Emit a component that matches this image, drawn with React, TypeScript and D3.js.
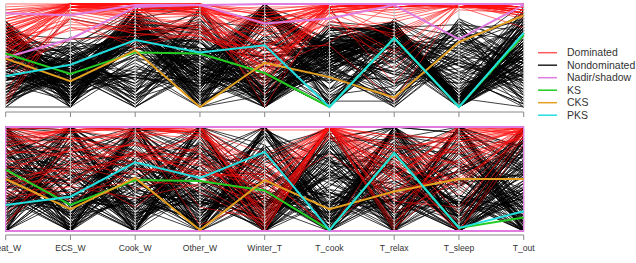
import React from 'react';
import * as d3 from 'd3';

const axes = ['Heat_W', 'ECS_W', 'Cook_W', 'Other_W', 'Winter_T', 'T_cook', 'T_relax', 'T_sleep', 'T_out'];
const legendLabels = ['Dominated', 'Nondominated', 'Nadir/shadow', 'KS', 'CKS', 'PKS'];
const legendColors = ['#ff5a5a', '#222222', '#e07ce0', '#22cc22', '#e5a020', '#22dede'];

// each string: one solution, one base-36 char per axis (0 = bottom .. z = top)
const topNondominated = [
  'p8s0k6q2m', 'i2x5e9l0r', 'c6n1tj8g4', 's1ha3rpc9', '6aw8m2kb0', 'lf2qb0t3u', '2o9we47ni', 'mcr0y5j1e',
  'r0e7k8m5x', '9h4jnbg2q', 'ek6x0i3ka', 'tc1m9fn0v', '3b0e6qr7h', 'kjs2cy1ja', 'o4a6wdl0p', '5i2o4b9qt',
  'ge8u7lh3b', 'q7ib1m0sg', 'hd3kh2pe6', '1k5n0rqa1', 'n3u1fi6p8', '82m8y0lgs', 'jg0c5jbo2', 'b9l4s6ui7',
  'pnpdihs2k', '4abh2nm9w', 'r6d9ge1lt', 'dh7s6a4rb', '00o2x1ohf', 'fj5y3tr0l', 's0v0il9fo', '7m4ivc2uc',
  'k5c0r6ke3', 'a8tqb0ja1', 'i1g7o8so5', 'm9xy0d5cj', '3d1r5k8ar', 'pcpae22nu', 'c4e0x4i0d', 'l7w2mib8y',
  '1l3o9sp6e', 'o6s4g0te9', '9ej7u3gpn', 'hbnc2h7tl', 'e2yw0f0is', 'q9b5t3mkg', '6g8m1rl3p', 't4rp9gcm6',
  '0f6dlm8r2', 'j0q1x2ig8', 'nkj5c1qfc', '2bo07ot0k', 'g8ho6k3nf', 's3c8o9aq7', '5j9tr1hh3', 'k7xz5nmj0',
  '8cas2eq5i', 'rh2h0lfs4', 'd0uyt1k0x', 'o5f3wgc8b', '4kyj9eo4o', 'idlu0opma', 'b3m1eb1uk', 'ma6gql7f6',
  'p2r2a9nl9', '1i7k4rjr1', 'f6ke8d2jz', 'q1pwjpfqd', '7e3q0hm3m', 'c9s8z0ko8', 'j3gg1nrc2', 'lb0nl6e6v',
  '0h4c7ndsq', 'hcw3p5j8h', 'te5xgapeb', 'a5if3sg0r', 'n7zk1jcrc', '3fcr6oti3', 's8a8blk9l', '6jo6yr4tg',
  'r2m04hkkw', '9g8pxnrs4', 'ikuq5e3mf', 'kah1om8g5', '2a5t0nbdn', 'pe1jhk4pd', 'o9q0rc0hs', 'egs5uki30',
  '1cb9apr0k', 'mm3a0fmbq',
  'h5p3vkq2f', 'n2u6xgr1k', '5buaymp0d', 'jesdzit3h', 'q4oawlo1n', 'b8tcyhs2a', 'm1qbxjm0i', '9gr8wfp3p',
  'f3xexbr0c', 's6kgyeq4l', '3cs9vns1g', 'kau2xks0e', 'o7rhzdn2r', 'e9v7yjq5m', 't2o5wcr0j', '7fwfxho2s',
  'lbqcvls3f', 'c4sbyfm1q', 'i8tdwiq0h', 'r5pgxcn4o', '2hqazjt1k', 'g7vgwgr2u', 'p0tczhp0e', 'a9xhyko3m',
  'mcq4xis1i', '6eub0mo0t', 'jcsm3ki2f', 'qans5ef0p', 'dfr90lr3k', 'hlwm2fp1s', 'ni0d4qs0i', '5aqf1gn2n',
  'rhnk6dr4b', 'buqj0gq0w', 'k2sd3io1f', 'fduk2mt3p', 's8p47lm5j', '1mkj0qr2h', 'o3rh5ns0r', '9cqa2ip1l',
  'ldkv8jo3u', 'e6pm6rq6k', 't8rf1cs2q', '4hwh7kn0e', 'j9om3fr4s', 'pbln4ep0g', 'c5ug5iq2o', 'maps9nk4m',
  'hknt3jo1j', '7ftj5go0t', 'q7mx4bs2n', 'g3ndtmr1p', 'r9rk2kq3h', 'a2ta8on2s', 'lfp9xip0k', 'e0srgcn3r',
  's2qhmfp1l', '6gq3kjo2q', 'n5rdnho0g', 'ica7ues1n', 'pboahjr3i', '3ctbmlq4u', 'k8mkhir1o', 'ddqebgm0k',
  'f9pcfnp3q', 'o4s6wiq2j', 'tbu4ikn1m', 'jfs2vkr0r', 'a7oc3dm4i', 'mhr8akq2p',
];

const topDominated = [
  'uzyxkzzzy', 'rzzwryzzx', 'kyxyazyzw', 'zzzzqzzzz', 'tyvwgxzyv', 'mzwxtzzzy', 'qyyzozyzz', 'hxuv8wxzu',
  'wzzyszzzy', 'pyxzezzyx', '3zyxwyzzw', 'syzwuxzzz', 'lzwyjzyyx', 'yzzz0zzzz', 'nxxvcwzzy', 'izyyryzyz',
  'vzxzmzzzx', 'ozzxhyyzy', 'gywvaxyzw', 'xzzytzzzz', 'jyxwuwzyy', 'uzzzpzzzx', 'ryyxyyzzz', 'mzxwdzzzy',
  'pyzzwyzzy', 'kqsoeuizx', 'frmpiwdyz', 'oukqbx8zy', 'dnorlsgxw', 'hrqt4vjzz', 'mtpnkl2zv', '1wsuhyqzz',
  '6vrqfwozy', 'sxtrdmzzw', 'qwvs9zxyr', 'aupohtpzy', 'lyupqznzx', 'juqsgrtyz', '2xvr7zwzv', 'nsroexuzy',
  'wyxzxzvzx', 'tzyyczzzw', 'gxwykyzzz', 'pzzxbzyzx', 'xyyzvzzyy', 'izxwlyzzz', 'ryzyoxyzy', 'kzzzvzzzx',
  'uxyxswzzz', 'ezzyjzyzw',
];

const bottomNondominated = [
  'k3zp0m8s2', '0ir6zb3kq', 'zb0kj5ur7', '5qh2s0z4h', 'r7m0z8c1w', 'e0w9fr6zb', 'm9c3xj0l5', '2uk7b4tn0',
  'y2pz6i0fp', 'h5a4ow9u3', 'pz4e1t2z8', '7lxg5m7a0', 'tc1ns0kgj', 'b0yo8z4q6', 'jh8s0kr2d', '0zc5t8u5y',
  'vf2zg1m0k', '3nq0j6y8r', 'n4w7ciu0g', 'gs6b4w2zk', 'zj0ql3h6o', '8b7l0p5s1', 'lzd4r0x9e', 'c6n9w7b3u',
  's0gy3qo2a', '1tz0ad7vt', 'x8u3ozl0c', 'fd5kz4f7m', 'q2i8l0zlr', '6zlh1u3e0', 'i9f0z6ka4', 'pk3t7cx0v',
  '4oyc0g6hj', 'wm0v9x4o2', 'aa8r2nj1s', 'k6tj5z9c7', '0dam8sd5n', 'uq4z0fv0h', 'd1n3kbi6q', 'yc9m2t0r4',
  '2wr8h0p8y', 'mgo5yo1c5', 'o5vb4j7t0', 'h0e9r3gm8', 'b8h2v9s4l', 'tp0u6ea0t', '9e6a1yrha', 'rq7q8l0z3',
  'ezk0nqm5g', '3k2x3u4ne', 'vnm6e1b0s', 'j3b3syk9x', 'n7x0m7dkp', '1lj9b2z0d', 'gy3fp9q8i', 'c0r1i4t3w',
  'xf4c9ig6b', '7oe8w0l0o', 's4fpa6o9m', 'aj1s5v2p1', 'lv0o0hek5', 'zbt4q8n3j', '5cqe4r8y0', 'f6gd3kc5u',
  'pmzad0q8r', '8tdk7m3w9', 'i2pt5jeg0', 'wk9w1sa1f', '0guh2nv6z', 'q5z1t3m0l', 'eo9ne6xi3', 'm4ox0ah5b',
  '6i5e8fw2m', 'ox80bo9js', 'yh2j8l2q7', 'bs7m0o4x4', 'u7o0yd4lc', '9aw5gc1a1', 'j7ra1xt7v', 'k1eug2r0e',
  'z5k0p3zc0', '0wd9z1k5z', '3z0sj0zb8', 'yb9z0mk0q', 'c0zbw5e9z', 'r4z0o8zi1', '8m0zb3y0w', 'uc6k0z2zs',
  '0gz1qa0zl', 'zs4oz6n0e', 'll0z7yh3z', '4zr0e0qz2', 'w1dz0sz8k', 'fz7a5z0w0', 'n0m0yd6zr', '0qyk2p0bz',
  'jz1u0x7z5', 'xf0zm0bfx', '6j9z3k8z0', 's0zc8vz3j', 'bz5z0e2y9', 'z6o1d0x0n', 'e2zh8z0r0', '0y3zl1zfu',
  'p9m0zbm6z', 'ma0zr4y0d', 'z0x7c0sqk', 'k7zg0za0v', '3tgy4z1u0', 'v1zaz0p9n', 'zo0t9uvz2', '9zm2z0d8s',
  'h0kz5ozx0', 'qy2d0k3zp', '0bzx7z0h8', 'ts8z1a7tb', 'i5z0wo0zm', 'yzm00x0s3', '0ic1zhm9z', 'gz0ex6e0e',
  'x0s8pz1z9', 'zyh1z0k2q', '2n0zgc0zk', 'o9zq0r5i0', 'bcr0m4zx6', 'zfbcw1t0b', '5zyk80zm3', 'rkf0zd4z1',
  'lb0y2jxf0', '0wqqz9a5z', 'uv7w0lz0g', 'j0z3k8m9y', 'yp3f1z0z7', 'd1yx9r6a0', 'a7zsb2wtm', 'zxo6j0fkb',
  '7sldqg9zs', 'm4b0ynl1v', '9rnzt3b8u', 'qd0qa8xmi', 'g2x8h9d0c', 'wvb3l7pxo', 'k0mfx5t4e', 's8g7c1zgz',
  '1yuo5vzb0', 'nfz9s0jyj', 'eu4mq4bo4', 'zhk5rmwvn', '8u5gfpm2y', 'tjip6t1lu',
];

const bottomDominated = [
  'zzyzgzmzz', 'yzzyqzwvz', 'wyzx2ziyx', 'zyyz8yozw', 'uzxy5zcxz', 'xxzwlz7sy', 'szzzbzrwz', 'zvwyyyhzx',
  'qzzz3zkty', 'yxzxnz0zz', 'ojqk5zaqv', 'fmuh9x3lx', 'bsniczfuy', 'mhrd2wmfz', '8qlkfyhow', 'jvpwjz6hx',
  'ek8pdqbmy', 'rppm0zj0t', '2uekhvnrz', 'lrtn7zeiu', 'gnjq1zsvy', 'ynxvazlwz', 'hgwqezpnw', 'tzz84z2yz',
  'afrji1k3x', 'pwqo6z8oy', '6mhf3ztmz', 'wvnsgxqcx', 'kaljj0xux', 'uuyz4zduz', '3lnxizcky', 'nrtr0z1jx',
  'xqzwmzwqz', 'dfbgpyjsv', 'zvxz6zrgy', 'qsx2bzvez', 'ilumjzo0w', 'vyzxfzizy', 'cdhtkwa8x', 'syvzlzs6z',
];

// highlighted solutions, percent of axis range
const topNadir = [91, 89, 99, 99, 100, 100, 100, 100, 100];
const topShadow = [48, 66, 97, 99, 81, 86, 99, 66, 99];
const topKS = [52, 32, 53, 52, 33, 0, 67, 0, 70];
const topCKS = [47, 25, 55, 0, 43, 29, 9, 63, 89];
const topPKS = [30, 41, 65, 53, 60, 0, 67, 0, 72];

const bottomNadir = [100, 100, 100, 100, 100, 100, 100, 100, 100];
const bottomShadow = [0, 0, 0, 0, 0, 0, 0, 0, 0];
const bottomKS = [59, 25, 49, 48, 39, 1, 75, 3, 13];
const bottomCKS = [50, 21, 51, 1, 49, 21, 38, 50, 50];
const bottomPKS = [25, 33, 66, 51, 76, 1, 75, 3, 19];

const decode = (s: string) => s.split('').map((c) => (parseInt(c, 36) / 35) * 100);

const x = d3.scalePoint<string>().domain(axes).range([5.7, 523.7]);

type PanelProps = {
  y0: number;
  y1: number;
  axisY: number;
  nd: string[];
  dom: string[];
  nadir: number[];
  shadow: number[];
  ks: number[];
  cks: number[];
  pks: number[];
  labels: boolean;
  frame: boolean;
};

function Panel(p: PanelProps) {
  const y = d3.scaleLinear().domain([0, 100]).range([p.y1, p.y0]);
  const line = d3
    .line<number>()
    .x((_, i) => x(axes[i]) as number)
    .y((d) => y(d));
  return (
    <g>
      {p.nd.map((s, i) => (
        <path key={'n' + i} d={line(decode(s)) || ''} fill="none" stroke="#000" strokeWidth={0.75} />
      ))}
      {p.dom.map((s, i) => (
        <path key={'d' + i} d={line(decode(s)) || ''} fill="none" stroke="#ff1010" strokeWidth={0.7} strokeOpacity={0.85} />
      ))}
      {axes.map((a) => (
        <line key={'v' + a} x1={x(a)} x2={x(a)} y1={y(100)} y2={y(0)} stroke="#bdbdbd" strokeWidth={1} />
      ))}
      {p.frame && (
        <rect x={x(axes[0])} y={y(100)} width={(x(axes[8]) as number) - (x(axes[0]) as number)} height={y(0) - y(100)}
          fill="none" stroke="#e07ce0" strokeWidth={1.2} />
      )}
      <path d={line(p.nadir) || ''} fill="none" stroke="#e07ce0" strokeWidth={2} />
      <path d={line(p.shadow) || ''} fill="none" stroke="#e07ce0" strokeWidth={2} />
      <path d={line(p.ks) || ''} fill="none" stroke="#22cc22" strokeWidth={2} />
      <path d={line(p.cks) || ''} fill="none" stroke="#e5a020" strokeWidth={2} />
      <path d={line(p.pks) || ''} fill="none" stroke="#22dede" strokeWidth={2} />
      <line x1={x(axes[0])} x2={x(axes[8])} y1={p.axisY} y2={p.axisY} stroke="#888" strokeWidth={1} />
      {axes.map((a) => (
        <line key={'t' + a} x1={x(a)} x2={x(a)} y1={p.axisY} y2={p.axisY + 5} stroke="#888" strokeWidth={1} />
      ))}
      {p.labels &&
        axes.map((a) => (
          <text key={'l' + a} x={x(a)} y={p.axisY + 16} textAnchor="middle" fontSize={8.6} fill="#333"
            fontFamily="'Liberation Sans', Arial, sans-serif">
            {a}
          </text>
        ))}
    </g>
  );
}

export default function App() {
  return (
    <svg width={636} height={263} style={{ position: 'absolute', left: 0, top: 0, background: '#fff' }}>
      <Panel y0={4} y1={107} axisY={112} nd={topNondominated} dom={topDominated} nadir={topNadir} shadow={topShadow}
        ks={topKS} cks={topCKS} pks={topPKS} labels={false} frame={false} />
      <Panel y0={127} y1={231} axisY={235} nd={bottomNondominated} dom={bottomDominated} nadir={bottomNadir}
        shadow={bottomShadow} ks={bottomKS} cks={bottomCKS} pks={bottomPKS} labels={true} frame={true} />
      {legendLabels.map((l, i) => (
        <g key={l}>
          <line x1={538} x2={557} y1={52.7 + i * 12.5} y2={52.7 + i * 12.5} stroke={legendColors[i]} strokeWidth={1.5} />
          <text x={567} y={52.7 + i * 12.5} dy="0.35em" fontSize={10.5} fill="#333"
            fontFamily="'Liberation Sans', Arial, sans-serif">
            {l}
          </text>
        </g>
      ))}
    </svg>
  );
}
